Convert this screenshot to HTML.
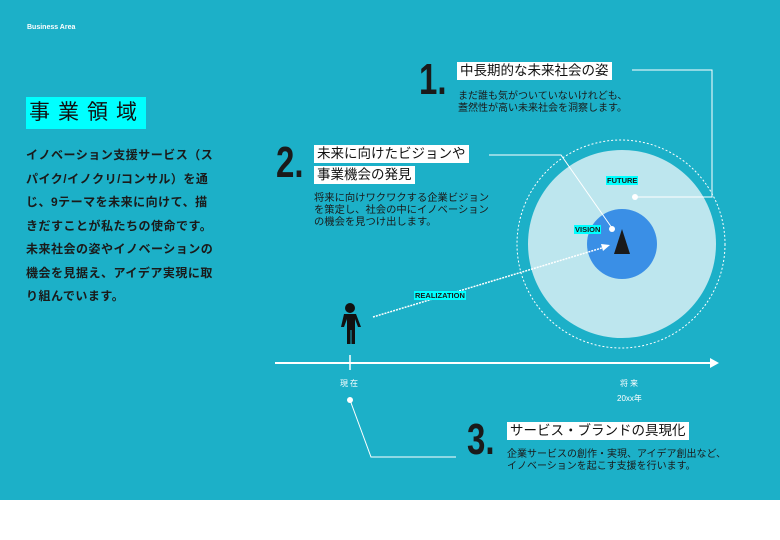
<!DOCTYPE html>
<html><head><meta charset="utf-8"><style>
body{margin:0;width:780px;height:540px;background:#fff;position:relative;overflow:hidden;font-family:"Liberation Sans","Noto Sans CJK JP",sans-serif}
.bg{position:absolute;left:0;top:0;width:780px;height:500px;background:#1cb0c8}
.a{position:absolute;white-space:nowrap}
.num{position:absolute;font-family:"Liberation Sans Narrow","Liberation Sans",sans-serif;font-weight:bold;color:#1a1a1a;font-size:44px;line-height:44px;transform:scaleX(0.75);transform-origin:left top}
.box{position:absolute;background:#fff;color:#111;font-size:13.5px;line-height:18px;padding:0 3px;white-space:nowrap}
.body{position:absolute;color:#1a1a1a;font-size:10px;line-height:12px;white-space:nowrap}
.lab{position:absolute;background:#00ffff;color:#1a1a1a;font-size:7.5px;font-weight:bold;line-height:9px;padding:0 1px}
</style></head><body>
<div class="bg"></div>
<div class="a" style="left:27px;top:24px;font-size:7px;color:#fff;font-weight:bold">Business Area</div>
<div class="a" style="left:26px;top:97px;width:120px;height:32px;background:#00ffff;font-size:21px;line-height:32px;letter-spacing:8px;padding-left:3px;box-sizing:border-box;color:#111">事業領域</div>
<div class="a" style="left:26px;top:144px;width:190px;white-space:normal;font-size:12px;line-height:23.5px;font-weight:bold;color:#1a1a1a;letter-spacing:0.5px">イノベーション支援サービス（スパイク/イノクリ/コンサル）を通じ、9テーマを未来に向けて、描きだすことが私たちの使命です。未来社会の姿やイノベーションの機会を見据え、アイデア実現に取り組んでいます。</div>

<svg width="780" height="500" style="position:absolute;left:0;top:0">
<circle cx="621" cy="244" r="104" fill="none" stroke="#fff" stroke-width="1" stroke-dasharray="2,2"/>
<circle cx="622" cy="244" r="94" fill="#bde6ee"/>
<circle cx="622" cy="244" r="35" fill="#3a8fe6"/>
<polygon points="622,229 614,254 630,254" fill="#1a1a1a"/>
<polyline points="632,70 712,70 712,197 635,197" fill="none" stroke="#fff" stroke-width="1"/>
<circle cx="635" cy="197" r="3" fill="#fff"/>
<polyline points="489,155 561,155 612,228" fill="none" stroke="#fff" stroke-width="1"/>
<circle cx="612" cy="229" r="3" fill="#fff"/>
<line x1="373" y1="317" x2="605" y2="247" stroke="#fff" stroke-width="1.5" stroke-dasharray="2,1"/>
<polygon points="610,245 601,244 603,251" fill="#fff"/>
<line x1="275" y1="363" x2="712" y2="363" stroke="#fff" stroke-width="2"/>
<polygon points="719,363 710,358 710,368" fill="#fff"/>
<line x1="350" y1="355" x2="350" y2="370" stroke="#fff" stroke-width="1.5"/>
<circle cx="350" cy="400" r="3" fill="#fff"/>
<polyline points="350,400 371,457 456,457" fill="none" stroke="#fff" stroke-width="1"/>
<circle cx="350" cy="308" r="5" fill="#111"/>
<path d="M344,314 h12 l5,13 h-3 l-3,-8 v25 h-3.5 v-14 h-1 v14 h-3.5 v-25 l-3,8 h-3 z" fill="#111"/>
</svg>

<div class="num" style="left:419px;top:58px">1.</div>
<div class="box" style="left:457px;top:62px">中長期的な未来社会の姿</div>
<div class="body" style="left:458px;top:91px">まだ誰も気がついていないけれども、<br>蓋然性が高い未来社会を洞察します。</div>

<div class="num" style="left:276px;top:141px">2.</div>
<div class="box" style="left:314px;top:145px">未来に向けたビジョンや</div>
<div class="box" style="left:314px;top:166px">事業機会の発見</div>
<div class="body" style="left:314px;top:193px;font-size:10.3px">将来に向けワクワクする企業ビジョン<br>を策定し、社会の中にイノベーション<br>の機会を見つけ出します。</div>

<div class="lab" style="left:606px;top:176px">FUTURE</div>
<div class="lab" style="left:574px;top:225px">VISION</div>
<div class="lab" style="left:414px;top:291px">REALIZATION</div>

<div class="a" style="left:340px;top:378px;font-size:8px;color:#fff;letter-spacing:2px">現在</div>
<div class="a" style="left:620px;top:378px;font-size:8px;color:#fff;letter-spacing:2px">将来</div>
<div class="a" style="left:617px;top:393px;font-size:8px;color:#fff">20xx年</div>

<div class="num" style="left:467px;top:418px">3.</div>
<div class="box" style="left:507px;top:422px">サービス・ブランドの具現化</div>
<div class="body" style="left:507px;top:449px">企業サービスの創作・実現、アイデア創出など、<br>イノベーションを起こす支援を行います。</div>
</body></html>
